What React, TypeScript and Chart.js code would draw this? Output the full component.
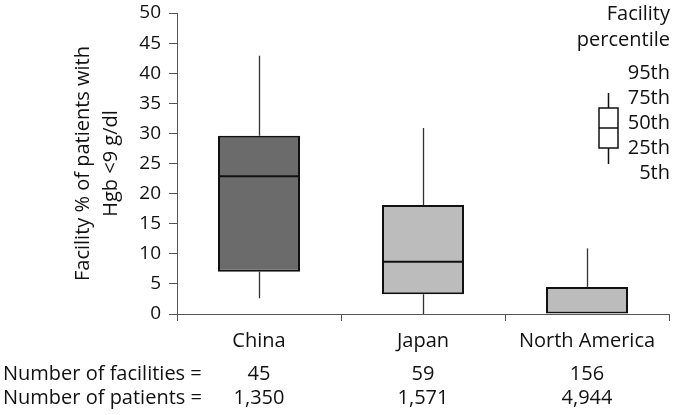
import React, { useEffect, useRef } from 'react';
import { Chart, registerables } from 'chart.js';

Chart.register(...registerables);

const categories = ['China', 'Japan', 'North America'];
const p5 = [2.6, 0, 0];
const p25 = [7.0, 3.3, 0];
const p50 = [22.9, 8.7, 0];
const p75 = [29.6, 18.1, 4.5];
const p95 = [42.9, 30.9, 10.9];
const boxColors = ['#6b6b6b', '#bcbcbc', '#bcbcbc'];
const facilities = ['45', '59', '156'];
const patients = ['1,350', '1,571', '4,944'];
const rowLabels = ['Number of facilities =', 'Number of patients ='];
const legendTitle = ['Facility', 'percentile'];
const legendLabels = ['95th', '75th', '50th', '25th', '5th'];
const yTitle = ['Facility % of patients with', 'Hgb <9 g/dl'];

const FONT = '"Open Sans", "Noto Sans", sans-serif';
const FS = 20;

const boxPlugin = {
  id: 'boxPlugin',
  beforeDatasetsDraw(chart: any) {
    const { ctx } = chart;
    const y = chart.scales.y;
    const meta = chart.getDatasetMeta(0);
    ctx.save();
    ctx.strokeStyle = '#333';
    ctx.lineWidth = 1.3;
    meta.data.forEach((bar: any, i: number) => {
      const x = Math.round(bar.x) + 0.5;
      ctx.beginPath();
      ctx.moveTo(x, y.getPixelForValue(p95[i]));
      ctx.lineTo(x, y.getPixelForValue(p75[i]));
      ctx.moveTo(x, y.getPixelForValue(p25[i]));
      ctx.lineTo(x, y.getPixelForValue(p5[i]));
      ctx.stroke();
    });
    ctx.restore();
  },
  afterDatasetsDraw(chart: any) {
    const { ctx, chartArea } = chart;
    const y = chart.scales.y;
    const meta = chart.getDatasetMeta(0);
    ctx.save();
    ctx.strokeStyle = '#111';
    ctx.lineWidth = 2;
    meta.data.forEach((bar: any, i: number) => {
      if (p50[i] <= p25[i]) return;
      const yy = y.getPixelForValue(p50[i]);
      ctx.beginPath();
      ctx.moveTo(bar.x - bar.width / 2, yy);
      ctx.lineTo(bar.x + bar.width / 2, yy);
      ctx.stroke();
    });

    // rows below axis
    ctx.fillStyle = '#111';
    ctx.font = FS + 'px ' + FONT;
    ctx.textBaseline = 'middle';
    ctx.textAlign = 'left';
    const rowY = [chartArea.bottom + 60, chartArea.bottom + 84];
    ctx.fillText(rowLabels[0], 3, rowY[0]);
    ctx.fillText(rowLabels[1], 3, rowY[1]);
    ctx.textAlign = 'center';
    const x = chart.scales.x;
    categories.forEach((_, i) => {
      const cx = x.getPixelForValue(i);
      ctx.fillText(facilities[i], cx, rowY[0]);
      ctx.fillText(patients[i], cx, rowY[1]);
    });

    // legend
    const right = chartArea.right + 1;
    ctx.textAlign = 'right';
    ctx.fillText(legendTitle[0], right, 14);
    ctx.fillText(legendTitle[1], right, 40);
    const ly = [73, 98, 123, 148, 173];
    legendLabels.forEach((t, i) => ctx.fillText(t, right, ly[i]));
    const bx = 599, bw = 19;
    ctx.strokeStyle = '#111';
    ctx.lineWidth = 1.5;
    ctx.strokeRect(bx, 108, bw, 40);
    ctx.beginPath();
    ctx.moveTo(bx, 128);
    ctx.lineTo(bx + bw, 128);
    ctx.moveTo(bx + bw / 2, 93);
    ctx.lineTo(bx + bw / 2, 108);
    ctx.moveTo(bx + bw / 2, 148);
    ctx.lineTo(bx + bw / 2, 164);
    ctx.stroke();
    ctx.restore();
  },
};

export default function App() {
  const ref = useRef<HTMLCanvasElement>(null);
  useEffect(() => {
    document.body.style.margin = '0';
    const chart = new Chart(ref.current as HTMLCanvasElement, {
      type: 'bar',
      data: {
        labels: categories,
        datasets: [
          {
            data: categories.map((_, i) => [p25[i], p75[i]]) as any,
            backgroundColor: boxColors,
            borderColor: '#111',
            borderWidth: 2,
            borderSkipped: false,
            barPercentage: 0.5,
            categoryPercentage: 1,
          },
        ],
      },
      options: {
        responsive: false,
        animation: false,
        devicePixelRatio: 1,
        layout: { padding: { top: 13, right: 6, left: 0, bottom: 0 } },
        plugins: { legend: { display: false }, tooltip: { enabled: false } },
        scales: {
          x: {
            offset: true,
            grid: {
              display: true,
              offset: true,
              drawOnChartArea: false,
              drawTicks: true,
              tickLength: 7,
              color: '#555',
            },
            border: { display: true, color: '#555', width: 1 },
            ticks: { color: '#111', font: { family: FONT, size: FS }, padding: 8 },
            afterFit: (s: any) => {
              s.height = 101;
              s.paddingLeft = 0;
              s.paddingRight = 0;
            },
          },
          y: {
            min: 0,
            max: 50,
            grid: {
              drawOnChartArea: false,
              drawTicks: true,
              tickLength: 8,
              color: '#555',
            },
            border: { display: true, color: '#555', width: 1 },
            ticks: { stepSize: 5, color: '#111', font: { family: FONT, size: 19 }, padding: 8 },
            title: {
              display: true,
              text: yTitle,
              color: '#111',
              font: { family: FONT, size: FS, lineHeight: 1.4 },
              padding: { top: 69, bottom: 0 },
            },
            afterFit: (s: any) => {
              s.width = 177;
              s.paddingTop = 0;
              s.paddingBottom = 0;
            },
          },
        },
      },
      plugins: [boxPlugin],
    });
    return () => chart.destroy();
  }, []);
  return <canvas ref={ref} width={675} height={415} style={{ display: 'block' }} />;
}
